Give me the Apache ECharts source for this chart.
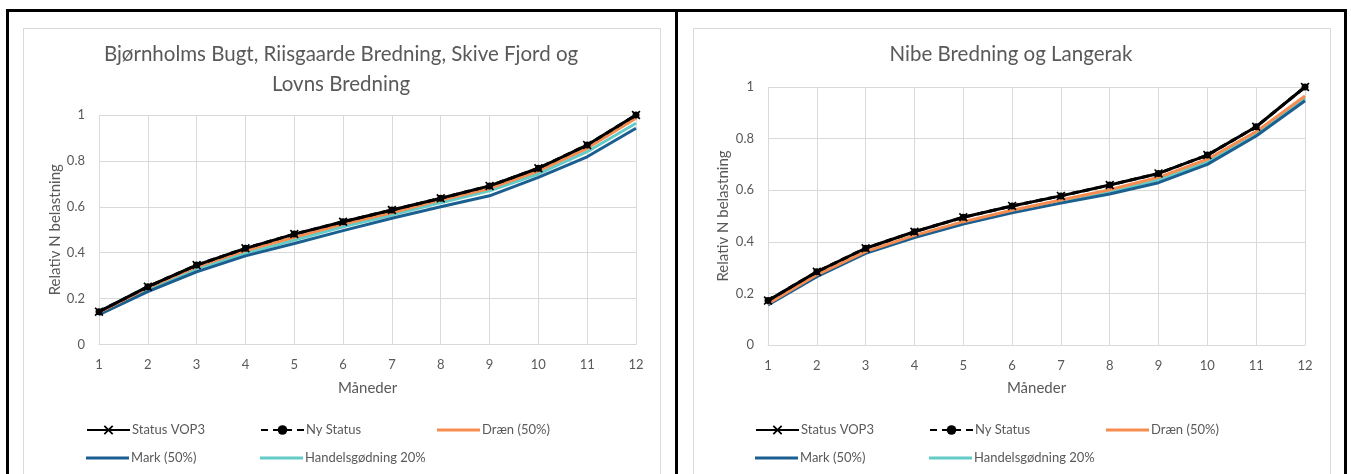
<!DOCTYPE html>
<html>
<head>
<meta charset="utf-8">
<title>Relativ N belastning</title>
<script src="https://cdn.jsdelivr.net/npm/echarts@6/dist/echarts.min.js"></script>
<style>
  html, body { margin: 0; padding: 0; background: #fff; overflow: hidden; }
  #wrap { position: relative; width: 1351px; height: 474px; }
  .frame { position: absolute; top: 9px; height: 520px; border: 3px solid #000; border-bottom: none; box-sizing: border-box; }
  .area { position: absolute; top: 28px; height: 520px; border: 1px solid #d9d9d9; box-sizing: border-box; }
  #chart { position: absolute; left: 0; top: 0; width: 1351px; height: 474px; }
</style>
</head>
<body>
<div id="wrap">
  <div class="frame" style="left:6px; width:672px;"></div>
  <div class="frame" style="left:675px; width:672px;"></div>
  <div class="area" style="left:23px; width:638px;"></div>
  <div class="area" style="left:693px; width:638px;"></div>
  <div id="chart"></div>
</div>
<script>
// Months on the x axis
const months = ['1', '2', '3', '4', '5', '6', '7', '8', '9', '10', '11', '12'];
const seriesNames = ['Status VOP3', 'Ny Status', 'Dræn (50%)', 'Mark (50%)', 'Handelsgødning 20%'];
const titles = ['Bjørnholms Bugt, Riisgaarde Bredning, Skive Fjord og\nLovns Bredning', 'Nibe Bredning og Langerak'];
const yTicks = [0, 0.2, 0.4, 0.6, 0.8, 1];

// Bjørnholms Bugt, Riisgaarde Bredning, Skive Fjord og Lovns Bredning
const statusA = [0.143, 0.252, 0.346, 0.419, 0.481, 0.535, 0.586, 0.637, 0.691, 0.768, 0.869, 1.0];
const nyStatusA = [0.143, 0.252, 0.346, 0.419, 0.481, 0.535, 0.586, 0.637, 0.691, 0.768, 0.869, 1.0];
const draenA = [0.140, 0.248, 0.339, 0.409, 0.467, 0.525, 0.574, 0.630, 0.680, 0.756, 0.855, 0.986];
const markA = [0.130, 0.230, 0.317, 0.386, 0.440, 0.496, 0.550, 0.600, 0.648, 0.728, 0.818, 0.942];
const handelA = [0.135, 0.240, 0.332, 0.397, 0.455, 0.513, 0.564, 0.618, 0.670, 0.743, 0.840, 0.964];

// Nibe Bredning og Langerak
const statusB = [0.172, 0.284, 0.375, 0.439, 0.495, 0.539, 0.578, 0.620, 0.665, 0.736, 0.846, 1.0];
const nyStatusB = [0.172, 0.284, 0.375, 0.439, 0.495, 0.539, 0.578, 0.620, 0.665, 0.736, 0.846, 1.0];
const draenB = [0.160, 0.272, 0.362, 0.425, 0.478, 0.522, 0.562, 0.602, 0.650, 0.720, 0.827, 0.965];
const markB = [0.155, 0.265, 0.355, 0.416, 0.469, 0.512, 0.550, 0.585, 0.629, 0.700, 0.810, 0.947];
const handelB = [0.157, 0.268, 0.358, 0.420, 0.474, 0.517, 0.556, 0.594, 0.640, 0.710, 0.818, 0.956];

const panelData = [
  [statusA, nyStatusA, draenA, markA, handelA],
  [statusB, nyStatusB, draenB, markB, handelB]
];

const FONT = 'Lato, "Open Sans", sans-serif';
const TEXT = '#595959';
const GRID = '#d9d9d9';
const CROSS = 'path://M0,1.3L1.3,0L5,3.7L8.7,0L10,1.3L6.3,5L10,8.7L8.7,10L5,6.3L1.3,10L0,8.7L3.7,5Z';

const styles = [
  { color: '#000000', lineStyle: { width: 3, type: 'solid' }, symbol: CROSS, symbolSize: 9 },
  { color: '#000000', lineStyle: { width: 3, type: [7, 5] }, symbol: 'circle', symbolSize: 7 },
  { color: '#f78c50', lineStyle: { width: 3 }, symbol: 'none', symbolSize: 0 },
  { color: '#1b5f91', lineStyle: { width: 3 }, symbol: 'none', symbolSize: 0 },
  { color: '#64ccc7', lineStyle: { width: 3 }, symbol: 'none', symbolSize: 0 }
];

// Panel geometry (pixels)
const panels = [
  { grid: { left: 99, right: 715, top: 115, bottom: 129.5 }, titleX: 341, yGap: 36, legendLeft: [86, 260, 437] },
  { grid: { left: 768, right: 46, top: 87, bottom: 129 }, titleX: 1011, yGap: 37, legendLeft: [755, 929, 1106] }
];

const option = {
  animation: false,
  textStyle: { fontFamily: FONT },
  title: [],
  grid: [],
  xAxis: [],
  yAxis: [],
  legend: [],
  series: []
};

panels.forEach((p, pi) => {
  option.title.push({
    text: titles[pi],
    left: p.titleX,
    textAlign: 'center',
    top: 39,
    padding: 0,
    textStyle: { fontFamily: FONT, fontSize: 20.5, fontWeight: 'normal', color: TEXT, lineHeight: 30 }
  });
  option.grid.push(Object.assign({ containLabel: false }, p.grid));
  option.xAxis.push({
    type: 'category',
    gridIndex: pi,
    data: months,
    boundaryGap: false,
    name: 'Måneder',
    nameLocation: 'middle',
    nameGap: 36,
    nameTextStyle: { fontFamily: FONT, fontSize: 15, color: TEXT },
    axisLine: { lineStyle: { color: GRID, width: 1 } },
    axisTick: { show: false },
    axisLabel: { color: TEXT, fontSize: 13, margin: 14, fontFamily: FONT, interval: 0 },
    splitLine: { show: true, interval: 0, lineStyle: { color: GRID, width: 1 } }
  });
  option.yAxis.push({
    type: 'value',
    gridIndex: pi,
    min: yTicks[0],
    max: yTicks[yTicks.length - 1],
    interval: 0.2,
    name: 'Relativ N belastning',
    nameLocation: 'middle',
    nameGap: p.yGap,
    nameTextStyle: { fontFamily: FONT, fontSize: 15, color: TEXT },
    axisLine: { show: false },
    axisTick: { show: false },
    axisLabel: { color: TEXT, fontSize: 13, margin: 14, fontFamily: FONT },
    splitLine: { lineStyle: { color: GRID, width: 1 } }
  });

  seriesNames.forEach((name, si) => {
    const st = styles[si];
    option.series.push({
      type: 'line',
      name: name,
      xAxisIndex: pi,
      yAxisIndex: pi,
      data: panelData[pi][si],
      symbol: st.symbol,
      symbolSize: st.symbolSize,
      showSymbol: st.symbol !== 'none',
      itemStyle: { color: st.color },
      lineStyle: Object.assign({ color: st.color, cap: 'butt' }, st.lineStyle),
      z: 10 - si,
      emphasis: { disabled: true }
    });
    // one legend entry per item, laid out in rows of three
    const row = Math.floor(si / 3);
    const col = si % 3;
    const plain = st.symbol === 'none';
    const centerY = row === 0 ? 430 : 458;
    option.legend.push({
      data: plain ? [{ name: name, icon: 'rect' }] : [name],
      left: p.legendLeft[col],
      top: centerY - 6.5,
      padding: 0,
      itemWidth: 43,
      itemHeight: plain ? 3 : 12,
      selectedMode: false,
      textStyle: { color: TEXT, fontSize: 13, fontFamily: FONT, padding: [0, 0, 0, -3] }
    });
  });
});

const chart = echarts.init(document.getElementById('chart'), null, { renderer: 'canvas' });
chart.setOption(option);
</script>
</body>
</html>
